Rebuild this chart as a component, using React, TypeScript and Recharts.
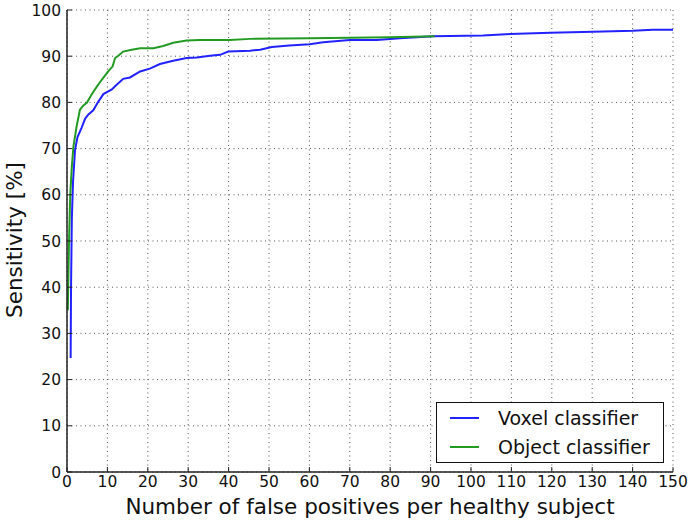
import { LineChart, Line, XAxis, YAxis, CartesianGrid } from 'recharts';

const voxelX = [0.9, 1.0, 1.2, 1.5, 2.0, 2.6, 3.6, 4.5, 5.3, 6.5, 7.5, 9.0, 11.1, 12.3, 13.9, 15.6, 18.1, 20.5, 23.0, 26.3, 29.6, 32.1, 35.4, 37.9, 39.9, 45.3, 47.8, 50.7, 55, 60.1, 63.4, 70, 76.7, 82.4, 90.6, 103, 109.7, 119.6, 130.2, 140, 145, 150];
const voxelY = [24.7, 40, 55, 63, 69.8, 72.5, 74.5, 76.5, 77.4, 78.3, 79.8, 81.8, 82.8, 83.8, 85.1, 85.4, 86.7, 87.3, 88.3, 89.0, 89.6, 89.7, 90.1, 90.3, 91.0, 91.2, 91.4, 92.0, 92.3, 92.6, 93.0, 93.5, 93.5, 93.9, 94.3, 94.5, 94.8, 95.1, 95.3, 95.5, 95.7, 95.7];

const objectX = [0.2, 0.5, 0.8, 1.2, 1.6, 2.4, 3.2, 4.0, 4.9, 6.1, 7.3, 8.6, 10.2, 11.3, 11.9, 12.7, 13.9, 16, 18.1, 21.4, 23.8, 26.3, 29.6, 32.9, 40.3, 45.3, 60.1, 80, 91];
const objectY = [35, 50, 60, 66.2, 70.5, 74.9, 78.4, 79.3, 79.9, 81.7, 83.3, 84.9, 86.7, 87.8, 89.6, 90.1, 91.0, 91.4, 91.7, 91.7, 92.2, 92.9, 93.4, 93.5, 93.5, 93.75, 93.9, 94.1, 94.3];

const xTicks = [0, 10, 20, 30, 40, 50, 60, 70, 80, 90, 100, 110, 120, 130, 140, 150];
const yTicks = [0, 10, 20, 30, 40, 50, 60, 70, 80, 90, 100];

const voxel = voxelX.map((x, i) => ({ x, y: voxelY[i] }));
const object = objectX.map((x, i) => ({ x, y: objectY[i] }));

const BLUE = '#2222ff';
const GREEN = '#239b23';
const font = '"DejaVu Sans", sans-serif';
const tickStyle = { fontSize: 15.5, fill: '#111', fontFamily: font };

// matplotlib-style legend box, lower right
function LegendBox() {
  const items = [
    { name: 'Voxel classifier', color: BLUE },
    { name: 'Object classifier', color: GREEN },
  ];
  return (
    <div
      style={{
        position: 'absolute',
        left: 436,
        top: 402,
        width: 226,
        height: 59,
        border: '1.5px solid #111',
        background: '#fff',
        fontFamily: font,
        fontSize: 19,
        color: '#111',
      }}
    >
      {items.map((d, i) => (
        <div key={d.name}>
          <span style={{ position: 'absolute', left: 13, top: 14 + i * 28.5, width: 29, height: 2, background: d.color }} />
          <span style={{ position: 'absolute', left: 61, top: 3 + i * 28.5, lineHeight: '24px', whiteSpace: 'nowrap' }}>{d.name}</span>
        </div>
      ))}
    </div>
  );
}

export default function App() {
  return (
    <div style={{ position: 'absolute', left: 0, top: 0, width: 689, height: 522, background: '#fff' }}>
      <LineChart width={689} height={522} margin={{ top: 10, right: 16, bottom: 10, left: 7 }}>
        <CartesianGrid xAxisId="b" yAxisId="l" stroke="#555" strokeDasharray="1 3.5" horizontalValues={yTicks} verticalValues={xTicks} />
        <XAxis
          xAxisId="b"
          dataKey="x"
          type="number"
          domain={[0, 150]}
          ticks={xTicks}
          interval={0}
          height={40}
          allowDataOverflow
          tick={tickStyle}
          tickSize={-5}
          tickMargin={9}
          stroke="#222"
          axisLine={{ stroke: '#222', strokeWidth: 1.5 }}
        />
        <XAxis
          xAxisId="t"
          orientation="top"
          dataKey="x"
          type="number"
          domain={[0, 150]}
          ticks={xTicks}
          height={0}
          mirror
          tickFormatter={() => ''}
          tickSize={5}
          stroke="#222"
          axisLine={{ stroke: '#222', strokeWidth: 1.5 }}
        />
        <YAxis
          yAxisId="l"
          type="number"
          domain={[0, 100]}
          ticks={yTicks}
          interval={0}
          width={60}
          tick={tickStyle}
          tickSize={-5}
          tickMargin={11}
          stroke="#222"
          axisLine={{ stroke: '#222', strokeWidth: 1.5 }}
        />
        <YAxis
          yAxisId="r"
          orientation="right"
          type="number"
          domain={[0, 100]}
          ticks={yTicks}
          width={0}
          mirror
          tickFormatter={() => ''}
          tickSize={5}
          stroke="#222"
          axisLine={{ stroke: '#222', strokeWidth: 1.5 }}
        />
        <Line
          xAxisId="b"
          yAxisId="l"
          data={voxel}
          dataKey="y"
          name="Voxel classifier"
          stroke={BLUE}
          strokeWidth={2}
          dot={false}
          type="linear"
          isAnimationActive={false}
        />
        <Line
          xAxisId="b"
          yAxisId="l"
          data={object}
          dataKey="y"
          name="Object classifier"
          stroke={GREEN}
          strokeWidth={2}
          dot={false}
          type="linear"
          isAnimationActive={false}
        />
        <text x={370} y={514} textAnchor="middle" fontSize={21.5} fontFamily={font} fill="#111">
          Number of false positives per healthy subject
        </text>
        <text x={22} y={240} textAnchor="middle" fontSize={21.5} fontFamily={font} fill="#111" transform="rotate(-90 22 240)">
          Sensitivity [%]
        </text>
      </LineChart>
      <LegendBox />
    </div>
  );
}
